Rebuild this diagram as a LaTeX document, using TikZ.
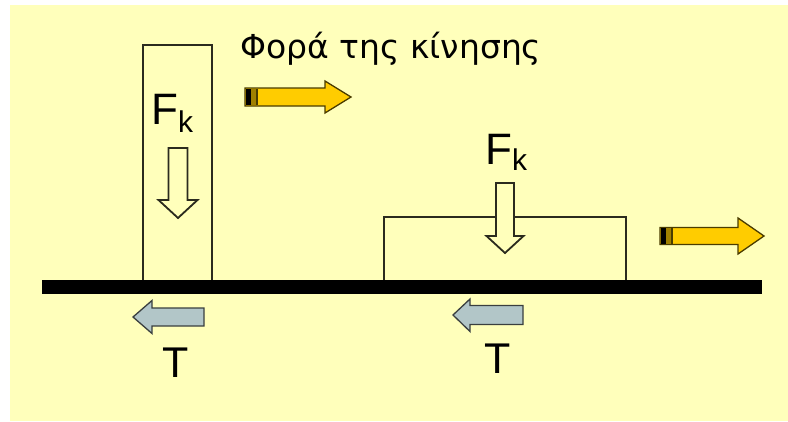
\documentclass[tikz,border=0pt]{standalone}
\usepackage{fontspec}
\setmainfont{Liberation Sans}
\newfontfamily\titlefont{DejaVu Sans}
\usetikzlibrary{positioning}
\definecolor{kinBack}{HTML}{FFFFBB}
\definecolor{kinInk}{HTML}{2B2B1E}
\definecolor{kinGold}{HTML}{FFCC00}
\definecolor{kinGoldDark}{HTML}{A08000}
\definecolor{kinGoldLine}{HTML}{4A3C00}
\definecolor{kinGrey}{HTML}{B2C6C8}
\definecolor{kinGreyLine}{HTML}{3A3F3F}
\begin{document}
\begin{tikzpicture}[x=1pt,y=-1pt,line cap=butt,line join=miter]
\useasboundingbox (0,0) rectangle (788,421);
\path[fill=white] (0,0) rectangle (788,421);
\path[fill=kinBack] (10,5) rectangle (788,421);
\tikzset{body/.style={draw=kinInk,line width=1.8pt},hollow/.style={draw=kinInk,line width=1.8pt,fill=kinBack},motion/.style={draw=kinGoldLine,line width=1.3pt,fill=kinGold},friction/.style={draw=kinGreyLine,line width=1.3pt,fill=kinGrey},lbl/.style={inner sep=0pt,anchor=base west,text=black}}
% the two bodies and the ground
\draw[body] (143,280) -- (143,45) -- (212,45) -- (212,280);
\draw[body] (384,280) -- (384,217) -- (626,217) -- (626,280);
\path[fill=black] (42,280) rectangle (762,294);
% weight arrows
\draw[hollow] (168.5,148) -- (187.5,148) -- (187.5,200) -- (197.5,200) -- (178,218) -- (158.5,200) -- (168.5,200) -- cycle;
\draw[hollow] (496,183) -- (514,183) -- (514,236) -- (523.5,236) -- (505,253) -- (486.5,236) -- (496,236) -- cycle;
\node[lbl,font=\fontsize{44}{44}\selectfont] (fkTall) at (151,124) {F\raisebox{-8pt}{\fontsize{30}{30}\selectfont k}};
\node[lbl,font=\fontsize{44}{44}\selectfont] (fkFlat) at (485,164) {F\raisebox{-6pt}{\fontsize{30}{30}\selectfont k}};
% direction of motion
\node[lbl,font=\titlefont\fontsize{33}{33}\selectfont] (motionText) at (240,58) {Φορά της κίνησης};
\draw[motion] (245,88) -- (325,88) -- (325,81) -- (351,97) -- (325,113) -- (325,106) -- (245,106) -- cycle;
\path[fill=black] (245.6,88.6) rectangle (251,105.4);
\path[fill=kinGoldDark] (251,88.6) rectangle (256,105.4);
\path[fill=kinGoldLine] (256,88.6) rectangle (258,105.4);
\draw[motion] (660,227.5) -- (738,227.5) -- (738,218) -- (764,236) -- (738,254) -- (738,244.5) -- (660,244.5) -- cycle;
\path[fill=black] (660.6,228.1) rectangle (666,243.9);
\path[fill=kinGoldDark] (666,228.1) rectangle (671,243.9);
\path[fill=kinGoldLine] (671,228.1) rectangle (673,243.9);
% friction arrows
\draw[friction] (204,308) -- (152,308) -- (152,300.5) -- (133,317) -- (152,333.5) -- (152,326) -- (204,326) -- cycle;
\draw[friction] (523,305.5) -- (470,305.5) -- (470,299) -- (453,315) -- (470,331.5) -- (470,324.5) -- (523,324.5) -- cycle;
\node[lbl,anchor=base,font=\fontsize{43}{43}\selectfont] (tTall) at (176,377) {T};
\node[lbl,anchor=base,font=\fontsize{43}{43}\selectfont] (tFlat) at (498,373) {T};
\end{tikzpicture}
\end{document}
